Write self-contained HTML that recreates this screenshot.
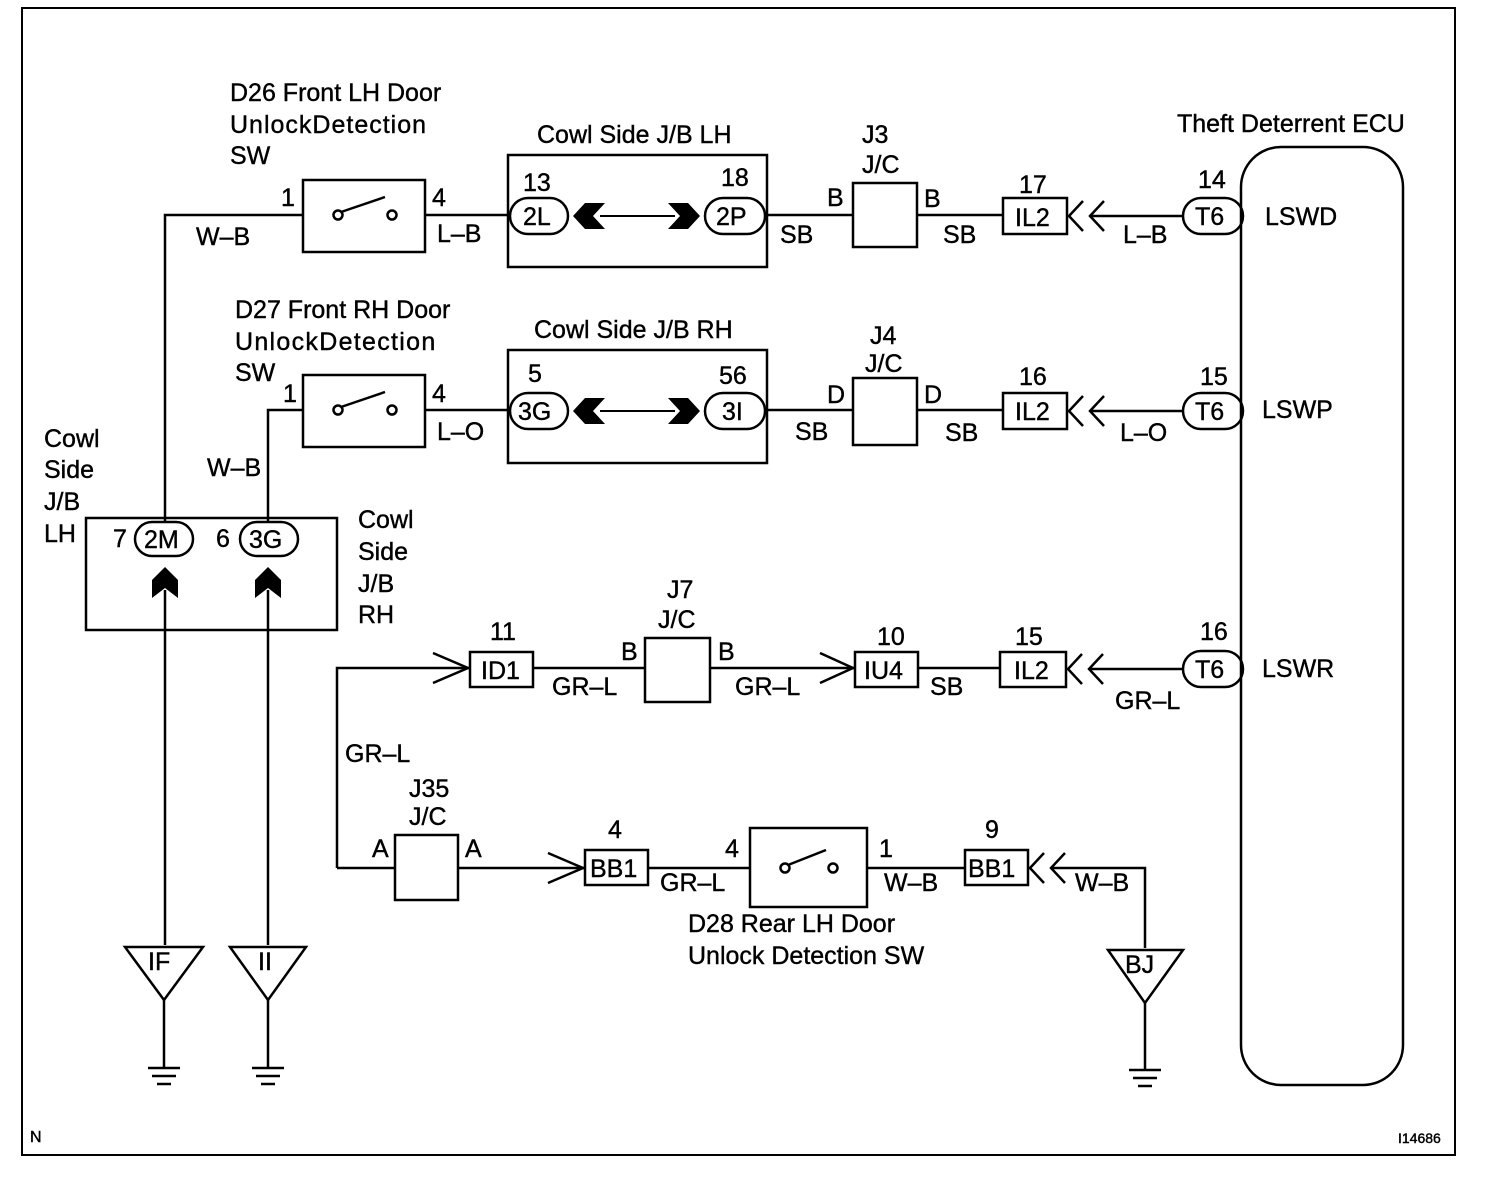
<!DOCTYPE html>
<html><head><meta charset="utf-8"><style>
html,body{margin:0;padding:0;background:#fff}
svg{display:block}
text{font-family:"Liberation Sans",sans-serif;font-size:25px;fill:#000;stroke:#000;stroke-width:0.4}
</style></head><body>
<svg width="1504" height="1180" viewBox="0 0 1504 1180" xmlns="http://www.w3.org/2000/svg">
<g fill="none" stroke="#000" stroke-width="2.5">
<rect x="22" y="8" width="1433" height="1147" stroke-width="2"/>
<rect x="1241" y="147" width="162" height="938" rx="40"/>
<polyline points="165,522 165,215 303,215"/>
<rect x="303" y="180" width="122" height="72"/>
<line x1="425" y1="215" x2="508" y2="215"/>
<rect x="508" y="155" width="259" height="112"/>
<rect x="510" y="198" width="58" height="36" rx="18"/>
<rect x="705" y="198" width="60" height="36" rx="18"/>
<line x1="600" y1="216" x2="675" y2="216" stroke-width="2"/>
<line x1="767" y1="215" x2="853" y2="215"/>
<rect x="853" y="183" width="64" height="64"/>
<line x1="917" y1="215" x2="1003" y2="215"/>
<rect x="1003" y="198" width="64" height="36"/>
<polyline points="1083,201 1069,216 1083,231"/><polyline points="1104,201 1090,216 1104,231"/>
<line x1="1090" y1="216" x2="1183" y2="216"/>
<rect x="1183" y="198" width="60" height="36" rx="18"/>
<polyline points="268,522 268,410 303,410"/>
<rect x="303" y="375" width="122" height="72"/>
<line x1="425" y1="410" x2="508" y2="410"/>
<rect x="508" y="350" width="259" height="113"/>
<rect x="510" y="393" width="58" height="36" rx="18"/>
<rect x="705" y="393" width="60" height="36" rx="18"/>
<line x1="600" y1="411" x2="675" y2="411" stroke-width="2"/>
<line x1="767" y1="410" x2="853" y2="410"/>
<rect x="853" y="378" width="64" height="67"/>
<line x1="917" y1="410" x2="1003" y2="410"/>
<rect x="1003" y="393" width="64" height="36"/>
<polyline points="1083,396 1069,411 1083,426"/><polyline points="1104,396 1090,411 1104,426"/>
<line x1="1090" y1="411" x2="1183" y2="411"/>
<rect x="1183" y="393" width="60" height="36" rx="18"/>
<rect x="86" y="518" width="251" height="112"/>
<rect x="135" y="522" width="58" height="34" rx="17"/>
<rect x="240" y="522" width="58" height="34" rx="17"/>
<line x1="165" y1="590" x2="165" y2="945"/>
<line x1="268" y1="590" x2="268" y2="945"/>
<polygon points="125,947 203,947 164,1000"/>
<polygon points="230,947 306,947 268,1000"/>
<line x1="164" y1="1000" x2="164" y2="1068"/>
<line x1="268" y1="1000" x2="268" y2="1068"/>
<line x1="148" y1="1068" x2="180" y2="1068"/><line x1="152" y1="1076" x2="176" y2="1076"/><line x1="157" y1="1084" x2="171" y2="1084"/>
<line x1="252" y1="1068" x2="284" y2="1068"/><line x1="256" y1="1076" x2="280" y2="1076"/><line x1="261" y1="1084" x2="275" y2="1084"/>
<polyline points="337,868 337,668 470,668"/>
<polyline points="433,653 468,668 433,683"/>
<rect x="470" y="652" width="63" height="35"/>
<line x1="533" y1="668" x2="645" y2="668"/>
<rect x="645" y="638" width="65" height="64"/>
<line x1="710" y1="668" x2="855" y2="668"/>
<polyline points="820,653 853,668 820,683"/>
<rect x="855" y="652" width="63" height="35"/>
<line x1="918" y1="668" x2="1000" y2="668"/>
<rect x="1000" y="652" width="66" height="35"/>
<polyline points="1082,654 1068,669 1082,684"/><polyline points="1103,654 1089,669 1103,684"/>
<line x1="1089" y1="669" x2="1183" y2="669"/>
<rect x="1183" y="651" width="60" height="36" rx="18"/>
<line x1="337" y1="868" x2="395" y2="868"/>
<rect x="395" y="835" width="63" height="65"/>
<line x1="458" y1="868" x2="585" y2="868"/>
<polyline points="548,853 583,868 548,883"/>
<rect x="585" y="850" width="63" height="35"/>
<line x1="648" y1="868" x2="750" y2="868"/>
<rect x="750" y="828" width="117" height="79"/>
<line x1="867" y1="868" x2="965" y2="868"/>
<rect x="965" y="850" width="63" height="35"/>
<polyline points="1044,853 1030,868 1044,883"/><polyline points="1065,853 1051,868 1065,883"/>
<polyline points="1051,868 1145,868 1145,948"/>
<polygon points="1108,950 1183,950 1145,1003"/>
<line x1="1145" y1="1003" x2="1145" y2="1070"/>
<line x1="1129" y1="1070" x2="1161" y2="1070"/><line x1="1133" y1="1078" x2="1157" y2="1078"/><line x1="1138" y1="1086" x2="1152" y2="1086"/>
<circle cx="338" cy="215" r="4.5"/><line x1="341" y1="212" x2="385" y2="197"/><circle cx="392" cy="215" r="4.5"/>
<circle cx="338" cy="410" r="4.5"/><line x1="341" y1="407" x2="385" y2="392"/><circle cx="392" cy="410" r="4.5"/>
<circle cx="785" cy="868" r="4.5"/><line x1="788" y1="865" x2="826" y2="850"/><circle cx="833" cy="868" r="4.5"/>
</g>
<g fill="#000">
<polygon points="573,216 585,203 605,203 593,216 605,229 585,229"/>
<polygon points="700,216 688,203 668,203 680,216 668,229 688,229"/>
<polygon points="573,411 585,398 605,398 593,411 605,424 585,424"/>
<polygon points="700,411 688,398 668,398 680,411 668,424 688,424"/>
<polygon points="165,567 152,580 152,598 165,588 178,598 178,580"/>
<polygon points="268,567 255,580 255,598 268,588 281,598 281,580"/>
</g>
<g>
<text x="230" y="101">D26 Front LH Door</text>
<text x="230" y="133" letter-spacing="1">UnlockDetection</text>
<text x="230" y="164">SW</text>
<text x="537" y="143">Cowl Side J/B LH</text>
<text x="862" y="143">J3</text><text x="862" y="173">J/C</text>
<text x="1177" y="132">Theft Deterrent ECU</text>
<text x="281" y="206">1</text><text x="196" y="245">W–B</text>
<text x="432" y="206">4</text><text x="437" y="242">L–B</text>
<text x="523" y="191">13</text><text x="721" y="186">18</text>
<text x="523" y="225">2L</text><text x="716" y="225">2P</text>
<text x="780" y="243">SB</text><text x="827" y="206">B</text><text x="924" y="207">B</text><text x="943" y="243">SB</text>
<text x="1019" y="193">17</text><text x="1015" y="226">IL2</text>
<text x="1123" y="243">L–B</text><text x="1198" y="188">14</text><text x="1195" y="225">T6</text>
<text x="1265" y="225">LSWD</text>
<text x="235" y="318">D27 Front RH Door</text>
<text x="235" y="350" letter-spacing="1.3">UnlockDetection</text>
<text x="235" y="381">SW</text>
<text x="534" y="338">Cowl Side J/B RH</text>
<text x="870" y="344">J4</text><text x="865" y="372">J/C</text>
<text x="283" y="402">1</text><text x="207" y="476">W–B</text>
<text x="432" y="402">4</text><text x="437" y="440">L–O</text>
<text x="528" y="382">5</text><text x="719" y="384">56</text>
<text x="518" y="420">3G</text><text x="722" y="420">3I</text>
<text x="795" y="440">SB</text><text x="827" y="403">D</text><text x="924" y="403">D</text><text x="945" y="441">SB</text>
<text x="1019" y="385">16</text><text x="1015" y="420">IL2</text>
<text x="1120" y="441">L–O</text><text x="1200" y="385">15</text><text x="1195" y="420">T6</text>
<text x="1262" y="418">LSWP</text>
<text x="44" y="447">Cowl</text><text x="44" y="478">Side</text><text x="44" y="510">J/B</text><text x="44" y="542">LH</text>
<text x="358" y="528">Cowl</text><text x="358" y="560">Side</text><text x="358" y="592">J/B</text><text x="358" y="623">RH</text>
<text x="113" y="547">7</text><text x="144" y="548">2M</text>
<text x="216" y="547">6</text><text x="249" y="548">3G</text>
<text x="148" y="970">IF</text><text x="258" y="970">II</text>
<text x="1125" y="973">BJ</text>
<text x="490" y="640">11</text><text x="481" y="679">ID1</text>
<text x="667" y="598">J7</text><text x="658" y="628">J/C</text>
<text x="621" y="660">B</text><text x="718" y="660">B</text>
<text x="552" y="695">GR–L</text><text x="735" y="695">GR–L</text>
<text x="877" y="645">10</text><text x="864" y="679">IU4</text><text x="930" y="695">SB</text>
<text x="1015" y="645">15</text><text x="1014" y="679">IL2</text>
<text x="1115" y="709">GR–L</text><text x="1200" y="640">16</text><text x="1195" y="678">T6</text>
<text x="1262" y="677">LSWR</text>
<text x="345" y="762">GR–L</text>
<text x="409" y="797">J35</text><text x="409" y="825">J/C</text>
<text x="372" y="857">A</text><text x="465" y="857">A</text>
<text x="608" y="838">4</text><text x="590" y="877">BB1</text>
<text x="660" y="891">GR–L</text><text x="725" y="857">4</text>
<text x="879" y="857">1</text><text x="884" y="891">W–B</text>
<text x="985" y="838">9</text><text x="968" y="877">BB1</text>
<text x="1075" y="891">W–B</text>
<text x="688" y="932">D28 Rear LH Door</text>
<text x="688" y="964">Unlock Detection SW</text>
<text x="30" y="1142" style="font-size:16px">N</text>
<text x="1398" y="1143" style="font-size:14px">I14686</text>
</g>
</svg>
</body></html>
